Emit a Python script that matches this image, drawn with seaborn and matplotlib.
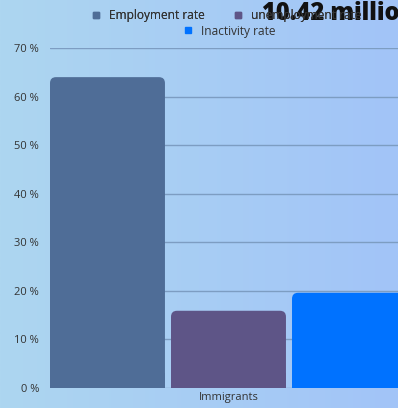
import numpy as np
import pandas as pd
import matplotlib
matplotlib.use("Agg")
import matplotlib.pyplot as plt
from matplotlib.patches import FancyBboxPatch
from matplotlib.lines import Line2D
import seaborn as sns

# Data
groups = ["Immigrants"]
series = ["Employment rate", "unemployment rate", "Inactivity rate"]
values = [64.0, 15.9, 19.6]
colors = ["#4f6d97", "#5e5587", "#0072ff"]
yticks = [0, 10, 20, 30, 40, 50, 60, 70]
title = "10.42 million"

df = pd.DataFrame({"group": groups * len(series), "series": series, "value": values})

sns.set_theme(style="white")
plt.rcParams["font.family"] = ["Open Sans", "DejaVu Sans"]

W, H = 398, 408
fig = plt.figure(figsize=(W / 100, H / 100), dpi=100)

# Horizontal gradient background
bg = fig.add_axes([0, 0, 1, 1], zorder=-10)
grad = np.linspace(0, 1, 256)
c0 = np.array([173, 214, 240]) / 255
c1 = np.array([162, 196, 248]) / 255
img = (c0[None, :] * (1 - grad[:, None]) + c1[None, :] * grad[:, None])[None, :, :]
bg.imshow(img, aspect="auto", extent=[0, 1, 0, 1])
bg.set_axis_off()

ax = fig.add_axes([50 / W, 20 / H, 360 / W, 340 / H])
ax.set_facecolor("none")

sns.barplot(data=df, x="group", y="value", hue="series", hue_order=series,
            palette=colors, width=1.0, gap=0.05, ax=ax, legend=False,
            saturation=1, zorder=3)

# Round the top corners of each bar
for p, col in zip(list(ax.patches), colors):
    x, y0 = p.get_x(), p.get_y()
    w, h = p.get_width(), p.get_height()
    p.set_visible(False)
    fb = FancyBboxPatch((x, y0), w, h, boxstyle="round,pad=0,rounding_size=0.0165",
                        mutation_aspect=75, facecolor=col, edgecolor="none", zorder=3)
    ax.add_patch(fb)
    # square off the bottom corners
    ax.add_patch(plt.Rectangle((x, y0), w, 3, facecolor=col, edgecolor="none", zorder=3))

ax.set_xlim(-0.5 + 0.025 / 3, 0.5)
ax.set_ylim(0, 70)
ax.set_yticks(yticks)
ax.set_yticklabels([f"{t} %" for t in yticks], fontsize=8, color="#333333")
ax.tick_params(axis="y", length=0, pad=8)
ax.tick_params(axis="x", length=0, pad=3, labelsize=8, labelcolor="#333333")
ax.set_xlabel("")
ax.set_ylabel("")
ax.grid(axis="y", color="#7d9dc2", linewidth=1, zorder=0)
for s in ax.spines.values():
    s.set_visible(False)

# Legend: two entries on the first row, one centred below
def handle(c):
    return Line2D([], [], marker="s", linestyle="none", markersize=5,
                  markerfacecolor=c, markeredgecolor=c)

leg1 = fig.legend([handle(colors[0]), handle(colors[1])], series[:2], ncol=2,
                  loc="center", bbox_to_anchor=(223 / W, 1 - 16 / H), frameon=False,
                  fontsize=8.6, labelcolor="#333333", handletextpad=0.1,
                  columnspacing=1.8, borderaxespad=0, borderpad=0)
leg2 = fig.legend([handle(colors[2])], series[2:], ncol=1,
                  loc="center", bbox_to_anchor=(226 / W, 1 - 31 / H), frameon=False,
                  fontsize=8.6, labelcolor="#333333", handletextpad=0.1,
                  borderaxespad=0, borderpad=0)
fig.add_artist(leg1)

fig.text(262 / W, 1 - 14 / H, title, fontsize=17, fontweight="heavy",
         color="#111111", ha="left", va="center")

fig.savefig("out.png", dpi=100)
